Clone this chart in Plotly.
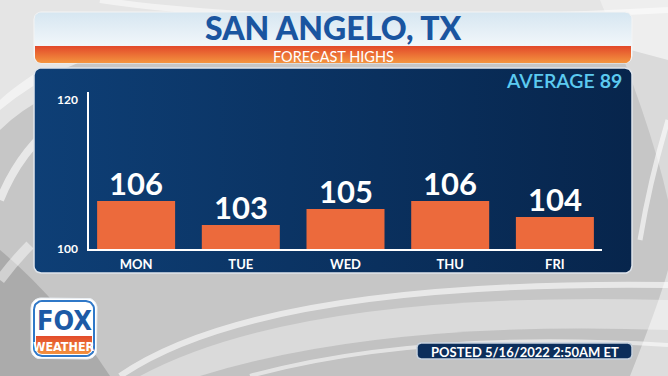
import numpy as np
import plotly.graph_objects as go

# ---------------- data ----------------
DAYS = ["MON", "TUE", "WED", "THU", "FRI"]
HIGHS = [106, 103, 105, 106, 104]
Y_TICKS = [100, 120]
AVERAGE = 89
TITLE = "SAN ANGELO, TX"
SUBTITLE = "FORECAST HIGHS"
POSTED = "POSTED 5/16/2022 2:50AM ET"

W, H = 668, 376
FONT = "Lato"
NARROW = "Liberation Sans Narrow, DejaVu Sans Condensed, Roboto, sans-serif"

PX_L, PX_R = 89, 602
PX_TOP, PX_BASE = 92, 249
PX_PER_UNIT = 8.0
LABEL_120_PX = 100


def rrect(x0, y0, x1, y1, r, corners=(True, True, True, True), n=10):
    tl, tr, br, bl = corners
    xs, ys = [], []

    def arc(cx, cy, a0, a1, rr):
        t = np.linspace(a0, a1, n)
        xs.extend(list(cx + rr * np.cos(t)))
        ys.extend(list(cy + rr * np.sin(t)))

    if tl:
        arc(x0 + r, y0 + r, np.pi, 1.5 * np.pi, r)
    else:
        xs.append(x0); ys.append(y0)
    if tr:
        arc(x1 - r, y0 + r, 1.5 * np.pi, 2 * np.pi, r)
    else:
        xs.append(x1); ys.append(y0)
    if br:
        arc(x1 - r, y1 - r, 0, 0.5 * np.pi, r)
    else:
        xs.append(x1); ys.append(y1)
    if bl:
        arc(x0 + r, y1 - r, 0.5 * np.pi, np.pi, r)
    else:
        xs.append(x0); ys.append(y1)
    xs.append(xs[0]); ys.append(ys[0])
    return xs, ys


def panel(x0, y0, x1, y1, r, color=None, grad=None, gtype="horizontal",
          line=None, lw=0, corners=(True, True, True, True)):
    xs, ys = rrect(x0, y0, x1, y1, r, corners)
    kw = dict(x=xs, y=ys, mode="lines", fill="toself", hoverinfo="skip",
              showlegend=False, xaxis="x", yaxis="y",
              line=dict(color=line if line else "rgba(0,0,0,0)", width=lw))
    if grad:
        kw["fillgradient"] = dict(type=gtype, colorscale=grad)
    else:
        kw["fillcolor"] = color
    return go.Scatter(**kw)


fig = go.Figure()

# ---------------- decorative panels (background subplot in pixel coords) ----------------
fig.add_trace(panel(34, 12, 632, 63, 7,
                    grad=[[0, "#ffffff"], [1, "#d6e6f1"]], gtype="vertical",
                    line="#f4f4f4", lw=1))
fig.add_trace(panel(35, 46, 631, 63, 6,
                    grad=[[0, "#f4953f"], [1, "#e2482a"]], gtype="vertical",
                    corners=(False, False, True, True)))
fig.add_trace(panel(34, 68, 632, 273, 7,
                    grad=[[0, "#0e3f76"], [1, "#07254c"]], gtype="horizontal",
                    line="#dfe5ec", lw=1.5))
fig.add_trace(panel(31, 298, 97, 359, 10, color="#ffffff", line="#e9eef3", lw=1))
fig.add_trace(panel(34, 301, 94, 356, 8, color="#ffffff", line="#2f78c8", lw=2))
fig.add_trace(panel(36, 336, 92, 354, 6,
                    grad=[[0, "#f4923e"], [1, "#e24a2b"]], gtype="vertical",
                    corners=(False, False, True, True)))
fig.add_trace(panel(417, 343, 632, 359, 4, color="#0c2e5b", line="#c8d2de", lw=1.5))

# ---------------- bars ----------------
fig.add_trace(go.Bar(
    x=DAYS, y=HIGHS, xaxis="x2", yaxis="y2",
    marker=dict(color="#ec6a3c", line=dict(width=0)),
    hoverinfo="skip", showlegend=False,
))
fig.add_trace(go.Scatter(x=[], y=[], xaxis="x2", yaxis="y3", showlegend=False))

# ---------------- background swirl ----------------
shapes = []
def band(path, color):
    shapes.append(dict(type="path", path=path, xref="x", yref="y",
                       fillcolor=color, line=dict(width=0), layer="below"))

def stroke(path, color, width):
    shapes.append(dict(type="path", path=path, xref="x", yref="y",
                       line=dict(color=color, width=width), layer="below"))

band("M 0 0 L 668 0 L 668 60 Q 420 -10 150 40 Q 60 60 0 110 Z", "rgba(255,255,255,0.55)")
band("M 0 130 Q 40 90 120 70 L 40 70 Q 10 90 0 100 Z", "rgba(255,255,255,0.5)")
band("M 0 376 L 0 250 Q 60 300 110 376 Z", "rgba(120,120,120,0.35)")
band("M 140 376 Q 300 290 668 300 L 668 376 Z", "rgba(255,255,255,0.35)")
band("M 200 376 Q 380 320 668 330 L 668 376 Z", "rgba(150,150,150,0.35)")
band("M 630 376 Q 660 300 668 270 L 668 376 Z", "rgba(255,255,255,0.45)")
band("M 600 0 L 668 0 L 668 200 Q 650 120 600 0 Z", "rgba(255,255,255,0.35)")
stroke("M 120 376 Q 260 280 668 285", "rgba(255,255,255,0.6)", 6)
stroke("M 250 376 Q 420 330 668 345", "rgba(255,255,255,0.55)", 4)
stroke("M 0 200 Q 20 150 60 120", "rgba(255,255,255,0.6)", 8)
stroke("M 0 280 Q 15 260 30 245", "rgba(255,255,255,0.45)", 10)
stroke("M 668 120 Q 650 180 640 240", "rgba(255,255,255,0.6)", 5)
stroke("M 100 0 Q 300 30 668 10", "rgba(255,255,255,0.5)", 6)

# ---------------- text ----------------
ann = []
def text(x, y, s, size, color, weight="bold", xanchor="center", family=FONT):
    ann.append(dict(x=x, y=y, xref="x", yref="y", text=s, showarrow=False,
                    xanchor=xanchor, yanchor="middle", borderpad=0,
                    font=dict(family=family, size=size, color=color, weight=weight)))

text(333, 27.5, TITLE, 32, "#1a55a0", weight=900)
text(333, 56, SUBTITLE, 14.5, "#ffffff", weight="normal")
text(623, 80.5, f"<span style='font-weight:600'>AVERAGE</span> <b>{AVERAGE}</b>", 19.5,
     "#5ccaf0", weight="normal", xanchor="right")
text(64, 320, "FOX", 27, "#1c5aa6", weight="bold", family=NARROW)
text(64, 346, "WEATHER", 12.5, "#ffffff", weight="bold", family=NARROW)
text(524.5, 351.5, POSTED, 13, "#ffffff", weight="bold")

# value labels above bars
for d, v in zip(DAYS, HIGHS):
    ann.append(dict(x=d, y=v, xref="x2", yref="y2", text=str(v), showarrow=False,
                    yanchor="middle", yshift=18,
                    font=dict(family=FONT, size=31, color="#ffffff", weight="bold")))

y2_top = 100 + (PX_BASE - PX_TOP) / PX_PER_UNIT
y3_top = 100 + (Y_TICKS[1] - Y_TICKS[0]) * (PX_BASE - PX_TOP) / (PX_BASE - LABEL_120_PX)

fig.update_layout(
    width=W, height=H, margin=dict(l=0, r=0, t=0, b=0, pad=0, autoexpand=False),
    paper_bgcolor="#c6c6c6", plot_bgcolor="rgba(0,0,0,0)",
    bargap=0.255, showlegend=False,
    shapes=shapes, annotations=ann,
    xaxis=dict(domain=[0, 1], range=[0, W], visible=False, fixedrange=True, automargin=False),
    yaxis=dict(domain=[0, 1], range=[H, 0], visible=False, fixedrange=True, automargin=False),
    xaxis2=dict(domain=[PX_L / W, PX_R / W], anchor="y2", type="category",
                range=[-0.45, len(DAYS) - 0.55], showgrid=False, zeroline=False,
                showline=True, linecolor="#ffffff", linewidth=2, ticks="",
                ticklabelstandoff=2, automargin=False,
                tickfont=dict(family=FONT, size=13, color="#ffffff", weight="bold")),
    yaxis2=dict(domain=[(H - PX_BASE) / H, (H - PX_TOP) / H], anchor="x2",
                range=[100, y2_top], showgrid=False, zeroline=False,
                showline=True, linecolor="#ffffff", linewidth=2,
                showticklabels=False, ticks="", automargin=False),
    yaxis3=dict(overlaying="y2", anchor="x2", side="left",
                range=[100, y3_top], tickvals=Y_TICKS, ticktext=[str(t) for t in Y_TICKS],
                showgrid=False, zeroline=False, showline=False, ticks="",
                ticklabelstandoff=10, automargin=False,
                tickfont=dict(family=FONT, size=12, color="#ffffff", weight="bold")),
)

fig.write_html("out.html")
